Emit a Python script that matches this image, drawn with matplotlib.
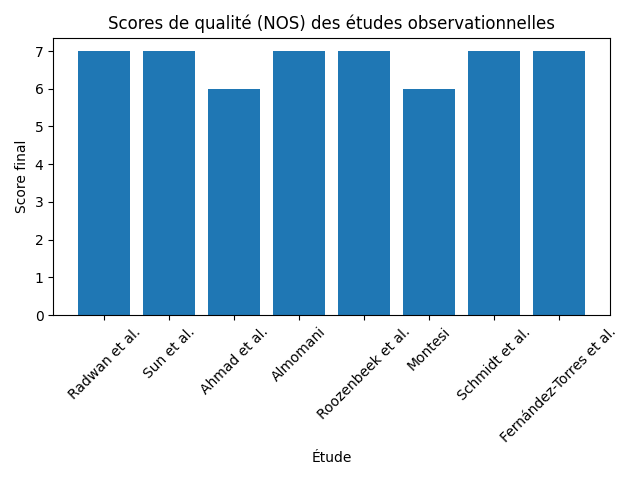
import matplotlib
matplotlib.use("Agg")
import matplotlib.pyplot as plt

studies = ["Radwan et al.", "Sun et al.", "Ahmad et al.", "Almomani",
           "Roozenbeek et al.", "Montesi", "Schmidt et al.", "Fernández-Torres et al."]
scores = [7, 7, 6, 7, 7, 6, 7, 7]

fig, ax = plt.subplots(figsize=(6.4, 4.8), dpi=100)
ax.bar(studies, scores, color="#1f77b4")
ax.set_title("Scores de qualité (NOS) des études observationnelles")
ax.set_xlabel("Étude")
ax.set_ylabel("Score final")
plt.xticks(rotation=45)
plt.tight_layout()
fig.savefig("out.png")
